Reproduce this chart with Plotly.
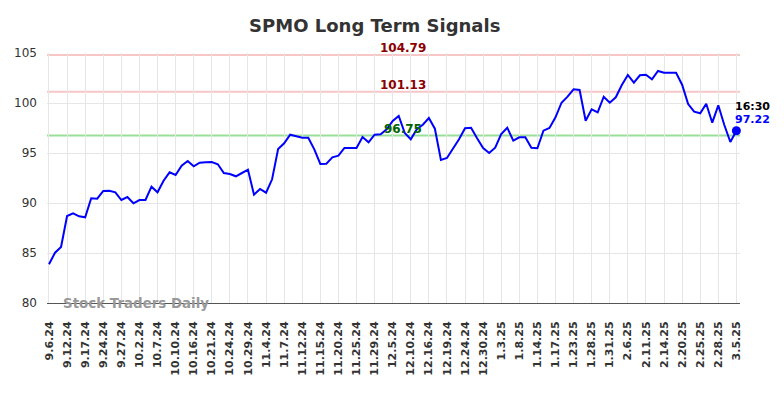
import plotly.graph_objects as go

dates = ["9.6.24","9.9.24","9.11.24","9.12.24","9.13.24","9.16.24","9.17.24","9.19.24","9.23.24","9.24.24",
"9.25.24","9.26.24","9.27.24","9.30.24","10.1.24","10.2.24","10.3.24","10.4.24","10.7.24","10.8.24",
"10.9.24","10.10.24","10.11.24","10.15.24","10.16.24","10.17.24","10.18.24","10.21.24","10.22.24","10.23.24",
"10.24.24","10.25.24","10.28.24","10.29.24","10.30.24","11.1.24","11.4.24","11.5.24","11.6.24","11.7.24",
"11.8.24","11.11.24","11.12.24","11.13.24","11.14.24","11.15.24","11.18.24","11.19.24","11.20.24","11.21.24",
"11.22.24","11.25.24","11.26.24","11.27.24","11.29.24","12.2.24","12.3.24","12.5.24","12.6.24","12.9.24",
"12.10.24","12.11.24","12.13.24","12.16.24","12.17.24","12.18.24","12.19.24","12.20.24","12.23.24","12.24.24",
"12.26.24","12.27.24","12.30.24","12.31.24","1.2.25","1.3.25","1.6.25","1.7.25","1.8.25","1.10.25",
"1.13.25","1.14.25","1.15.25","1.16.25","1.17.25","1.21.25","1.22.25","1.23.25","1.24.25","1.27.25",
"1.28.25","1.29.25","1.30.25","1.31.25","2.3.25","2.5.25","2.6.25","2.7.25","2.10.25","2.11.25",
"2.12.25","2.13.25","2.14.25","2.18.25","2.19.25","2.20.25","2.21.25","2.24.25","2.25.25","2.26.25",
"2.27.25","2.28.25","3.3.25","3.4.25","3.5.25"]

prices = [83.87,85.03,85.6,88.7,88.97,88.67,88.57,90.47,90.43,91.2,
91.23,91.07,90.3,90.6,89.97,90.3,90.3,91.63,91.07,92.23,
93.07,92.8,93.73,94.2,93.67,94.03,94.07,94.1,93.87,93.0,
92.9,92.67,93.0,93.33,90.83,91.4,91.03,92.37,95.4,95.97,
96.83,96.7,96.53,96.53,95.37,93.9,93.93,94.57,94.73,95.5,
95.53,95.5,96.6,96.07,96.83,96.87,97.37,98.2,98.7,97.0,
96.37,97.37,97.83,98.5,97.43,94.3,94.5,95.43,96.37,97.47,
97.53,96.47,95.5,95.0,95.53,96.9,97.53,96.23,96.57,96.57,
95.53,95.47,97.23,97.5,98.57,100.03,100.63,101.37,101.3,98.23,
99.37,99.07,100.63,100.03,100.57,101.8,102.8,102.03,102.77,102.83,
102.37,103.2,103.03,103.03,103.03,101.83,99.9,99.13,98.97,99.93,
98.03,99.77,97.8,96.1,97.22]

tick_labels = dates[::3]
y_ticks = [80, 85, 90, 95, 100, 105]
resistance_levels = [104.79, 101.13]
support_levels = [96.75]
last_time = "16:30"
title_text = "SPMO Long Term Signals"
watermark = "Stock Traders Daily"

FONT = "DejaVu Sans"

fig = go.Figure()

for lv in resistance_levels:
    fig.add_hline(y=lv, line=dict(color="#f7c6c6", width=2), layer="below")
for lv in support_levels:
    fig.add_hline(y=lv, line=dict(color="#98e098", width=2), layer="below")

fig.add_trace(go.Scatter(x=dates, y=prices, mode="lines",
                         line=dict(color="#0000ff", width=2), hoverinfo="skip", cliponaxis=False))
fig.add_trace(go.Scatter(x=[dates[-1]], y=[prices[-1]], mode="markers",
                         marker=dict(color="#0000ff", size=9), hoverinfo="skip", cliponaxis=False))

label_x = dates[59]
for lv in resistance_levels:
    fig.add_annotation(x=label_x, y=lv, text=f"{lv:.2f}", showarrow=False,
                       yanchor="bottom", yshift=-2, xshift=-2,
                       font=dict(family=FONT, size=12, color="#8b0000", weight="bold"))
for lv in support_levels:
    fig.add_annotation(x=label_x, y=lv, text=f"{lv:.2f}", showarrow=False,
                       yanchor="bottom", yshift=-2, xshift=-2,
                       font=dict(family=FONT, size=12, color="#006400", weight="bold"))

fig.add_annotation(x=dates[-1], y=prices[-1], text=last_time, showarrow=False,
                   xanchor="left", yanchor="middle", yshift=24, xshift=-3,
                   font=dict(family=FONT, size=11, color="#000000", weight="bold"))
fig.add_annotation(x=dates[-1], y=prices[-1], text=f"{prices[-1]:.2f}", showarrow=False,
                   xanchor="left", yanchor="middle", yshift=11, xshift=-3,
                   font=dict(family=FONT, size=11, color="#0000ff", weight="bold"))

fig.add_annotation(xref="paper", yref="paper", x=0.02, y=0.0, text=watermark,
                   showarrow=False, xanchor="left", yanchor="middle",
                   font=dict(family=FONT, size=13.4, color="#999999", weight="bold"))

fig.update_layout(
    width=784, height=398,
    margin=dict(l=47, r=44, t=53, b=95, autoexpand=False),
    paper_bgcolor="white", plot_bgcolor="white",
    showlegend=False,
    title=dict(text=title_text, x=0.478, xanchor="center", y=0.935, yanchor="middle",
               font=dict(family=FONT, size=18, color="#333333", weight="bold")),
)
fig.update_xaxes(type="category", tickmode="array", tickvals=tick_labels, ticktext=tick_labels,
                 tickangle=-90, range=[-0.33, 114.6], automargin=False,
                 showgrid=True, gridcolor="#e6e6e6", gridwidth=1,
                 showline=True, linecolor="#555555", linewidth=1,
                 ticks="", ticklabelstandoff=13,
                 tickfont=dict(family=FONT, size=11, color="#333333", weight="bold"))
fig.update_yaxes(range=[80, 105], tickvals=y_ticks, automargin=False,
                 showgrid=True, gridcolor="#e6e6e6", gridwidth=1, zeroline=False,
                 showline=False, ticks="", ticklabelstandoff=9,
                 tickfont=dict(family=FONT, size=12, color="#333333"))

fig.write_html("out.html", config={"displayModeBar": False},
               post_script="document.body.style.margin='0';document.body.style.overflow='hidden';")
